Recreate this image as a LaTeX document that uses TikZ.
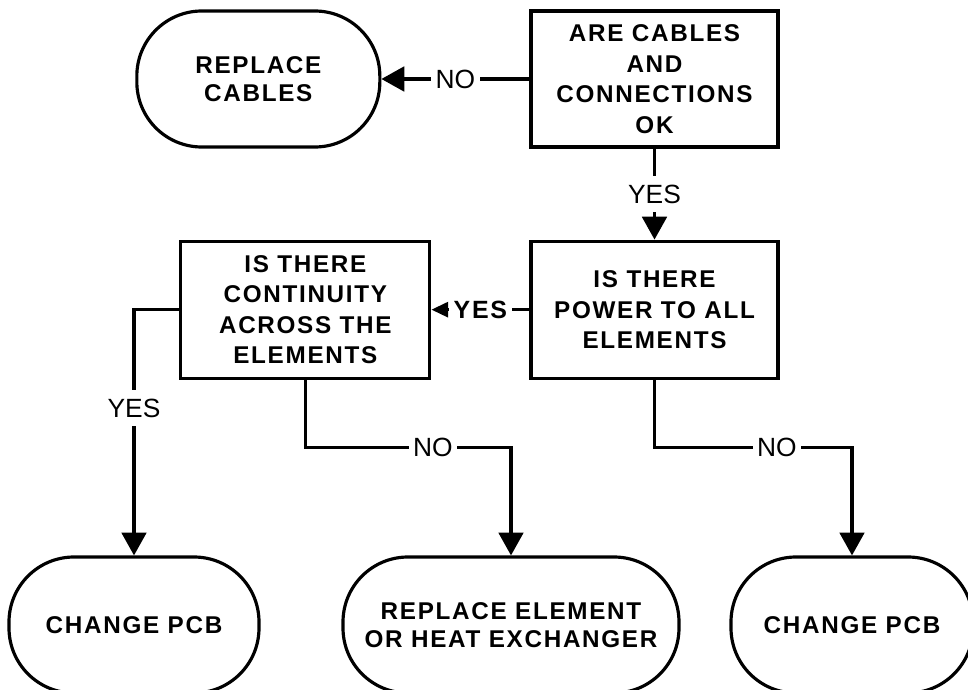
\documentclass[tikz,border=0pt]{standalone}
\usepackage{fontspec}
\setmainfont{Liberation Sans}
\newfontfamily\boxfont[LetterSpace=7]{Liberation Sans}
\usepackage{tikz}
\usetikzlibrary{arrows.meta,positioning}

\begin{document}
\begin{tikzpicture}[
        query/.style={rectangle, draw, line width=1.8pt, minimum width=4.94cm, minimum height=2.74cm, align=center, font=\fontsize{13.8pt}{17.4pt}\boxfont\bfseries},
        terminal/.style={rectangle, draw, rounded corners=1.3cm, line width=1.8pt, minimum height=2.72cm, align=center, font=\fontsize{13.8pt}{16pt}\boxfont\bfseries},
        arrow/.style={-{Triangle[length=13pt, width=14pt]}, line width=1.8pt},
        smallarrow/.style={-{Triangle[length=9.5pt, width=8.5pt]}, line width=1.8pt},
        lbl/.style={fill=white, inner xsep=2.5pt, inner ysep=5pt, font=\fontsize{15pt}{18pt}\selectfont},
    ]
        \clip (0,0) rectangle (19.36,-13.8);

        \node[query, minimum height=2.72cm] (cables) at (13.09,-1.58) {ARE CABLES\\AND\\CONNECTIONS\\OK};
        \node[terminal, minimum width=4.86cm, left=2.96cm of cables] (replace) {REPLACE\\CABLES};
        \node[query, below=1.82cm of cables] (power) {IS THERE\\POWER TO ALL\\ELEMENTS};
        \node[query, minimum width=4.98cm, left=1.96cm of power] (continuity) {IS THERE\\CONTINUITY\\ACROSS THE\\ELEMENTS};
        \node[terminal, minimum width=5.0cm] (pcbleft) at (2.68,-12.5) {CHANGE PCB};
        \node[terminal, minimum width=6.72cm] (element) at (10.22,-12.5) {REPLACE ELEMENT\\OR HEAT EXCHANGER};
        \node[terminal, minimum width=4.84cm] (pcbright) at (17.04,-12.5) {CHANGE PCB};

        \draw[arrow] (cables) -- node[lbl] {NO} (replace);
        \draw[arrow] (cables) -- node[lbl] {YES} (power);
        \draw[smallarrow] (power) -- node[lbl, font=\fontsize{14.2pt}{17pt}\boxfont\bfseries] {YES} (continuity);
        \draw[arrow] (continuity.west) -| node[lbl, pos=0.7] {YES} (pcbleft.north);
        \draw[arrow] (continuity.south) -- ++(0,-1.36) -| node[lbl, pos=0.31] {NO} (element.north);
        \draw[arrow] (power.south) -- ++(0,-1.36) -| node[lbl, pos=0.31] {NO} (pcbright.north);

    \end{tikzpicture}
\end{document}
